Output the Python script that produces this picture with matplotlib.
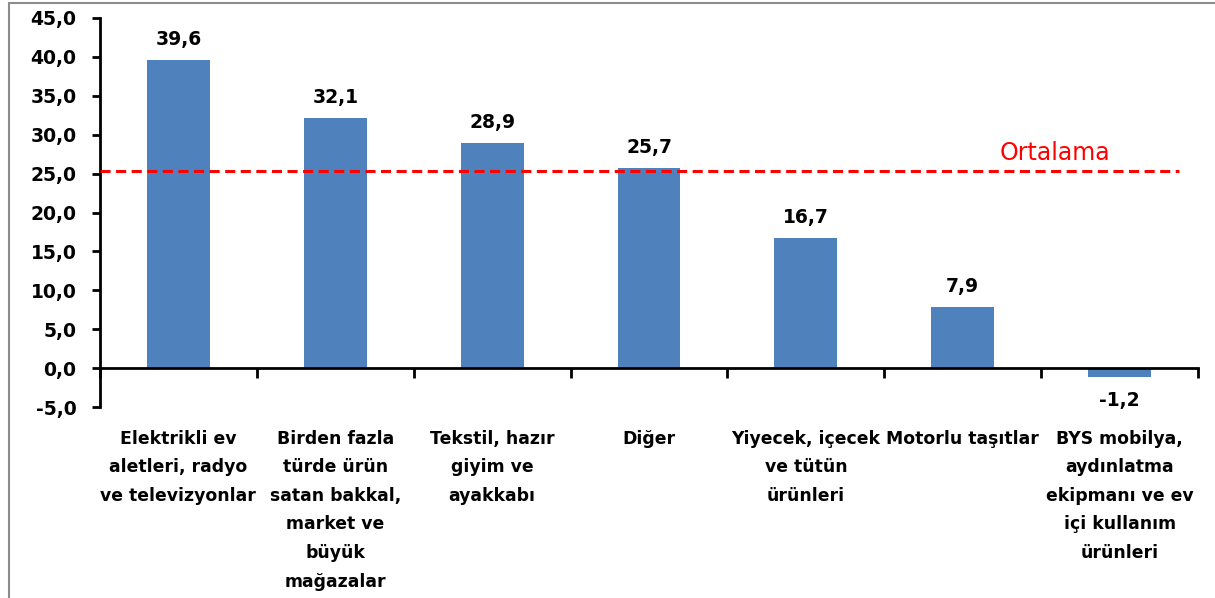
import matplotlib
matplotlib.use("Agg")
import matplotlib.pyplot as plt
from matplotlib.patches import Rectangle
import numpy as np

categories = [
    "Elektrikli ev\naletleri, radyo\nve televizyonlar",
    "Birden fazla\ntürde ürün\nsatan bakkal,\nmarket ve\nbüyük\nmağazalar",
    "Tekstil, hazır\ngiyim ve\nayakkabı",
    "Diğer",
    "Yiyecek, içecek\nve tütün\nürünleri",
    "Motorlu taşıtlar",
    "BYS mobilya,\naydınlatma\nekipmanı ve ev\niçi kullanım\nürünleri",
]
values = [39.6, 32.1, 28.9, 25.7, 16.7, 7.9, -1.2]
average = 25.3
average_label = "Ortalama"
yticks = [-5, 0, 5, 10, 15, 20, 25, 30, 35, 40, 45]

FONT = "DejaVu Sans"
W, H = 1215, 598
fig = plt.figure(figsize=(W / 100, H / 100), dpi=100)
fig.patches.append(Rectangle((9 / W, -0.1), 1.2, 1 - 3 / H + 0.1, transform=fig.transFigure,
                             fill=False, edgecolor="#8c8c8c", linewidth=1.5))
ax = fig.add_axes([100 / W, 1 - 407 / H, 1098 / W, 389 / H])

x = np.arange(len(values))
ax.bar(x, values, width=0.4, color="#4F81BD", zorder=2)
ax.set_xlim(-0.5, len(values) - 0.5)
ax.set_ylim(-5, 45)

ax.set_yticks(yticks)
ax.set_yticklabels([f"{v:.1f}".replace(".", ",") for v in yticks],
                   fontfamily=FONT, fontweight="bold", fontsize=13.5)
ax.tick_params(axis="y", length=6, width=2, pad=11, direction="out")

ax.set_xticks(np.arange(len(values) + 1) - 0.5)
ax.set_xticklabels([])
ax.tick_params(axis="x", length=7, width=2, direction="out")

for s in ["top", "right"]:
    ax.spines[s].set_visible(False)
ax.spines["bottom"].set_position(("data", 0))
ax.spines["bottom"].set_linewidth(2)
ax.spines["left"].set_linewidth(2)

for xi, v in zip(x, values):
    lab = f"{v:.1f}".replace(".", ",")
    if v >= 0:
        ax.annotate(lab, (xi, v), xytext=(0, 8), textcoords="offset points",
                    ha="center", va="bottom", fontfamily=FONT, fontweight="bold", fontsize=13.5)
    else:
        ax.annotate(lab, (xi, v), xytext=(0, -10), textcoords="offset points",
                    ha="center", va="top", fontfamily=FONT, fontweight="bold", fontsize=13.5)

for xi, c in zip(x, categories):
    ax.text(xi, -7.9, c, ha="center", va="top", fontfamily=FONT, fontweight="bold",
            fontsize=12.4, linespacing=1.76, transform=ax.transData, clip_on=False)

ax.axhline(average, xmin=0, xmax=(1179 - 100) / 1098, color="#FF0000", linewidth=2.2,
           linestyle=(0, (3.3, 1.8)), zorder=3)
ax.text(5.59, 26.7, average_label, ha="center", va="baseline", color="#FF0000",
        fontfamily=FONT, fontsize=17)

fig.savefig("out.png", dpi=100)
